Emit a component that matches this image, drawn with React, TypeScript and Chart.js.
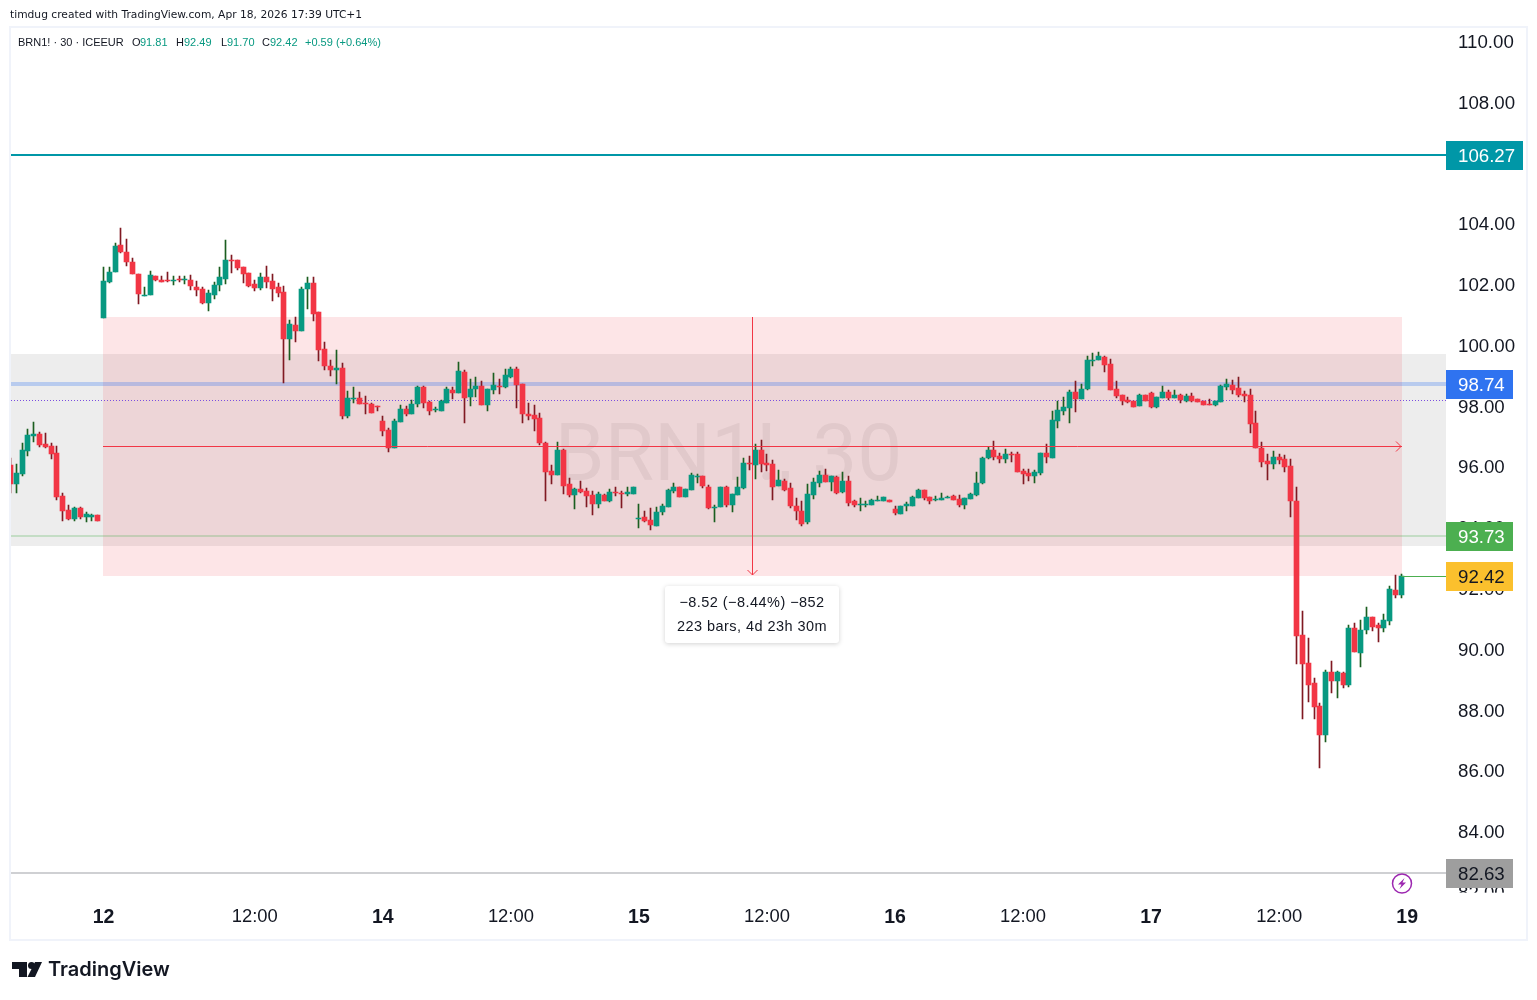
import React, { useEffect, useRef } from "react";
import { Chart, registerables } from "chart.js";

Chart.register(...registerables);

const firstBar = -16;
const opens = [96.08,95.45,95.78,96.54,97.03,97.10,96.77,96.70,96.47,95.06,94.60,94.30,94.66,94.36,94.36,94.43,
100.92,102.10,102.43,103.32,103.09,102.76,102.36,101.64,101.67,102.30,102.17,102.17,102.13,102.20,102.17,102.17,101.94,101.87,101.41,101.67,102.00,102.20,102.82,102.82,102.59,102.40,102.03,101.90,102.27,102.13,101.94,101.77,100.22,100.69,100.49,101.87,102.07,101.11,99.90,99.34,99.20,99.27,97.69,
98.25,98.28,98.12,98.08,98.02,97.52,97.23,96.64,97.49,97.92,97.76,98.08,98.64,98.15,97.89,97.85,98.12,98.55,98.45,99.14,98.31,98.58,98.68,98.05,98.55,98.68,98.64,98.97,99.24,98.74,97.76,97.72,97.62,96.80,95.88,95.75,96.57,95.45,95.09,95.29,95.22,95.09,94.79,95.09,94.89,95.19,95.16,95.12,95.12,94.30,94.37,94.27,
94.07,94.53,94.69,95.22,95.35,95.02,95.25,95.68,95.72,95.35,94.66,94.69,95.35,94.76,95.09,95.31,96.14,96.08,96.57,96.14,96.11,95.39,95.55,95.32,94.73,94.56,94.20,95.09,95.48,95.75,95.52,95.68,95.19,95.55,94.89,94.76,94.76,94.76,94.89,94.89,94.92,94.63,94.46,94.73,94.73,94.99,95.25,95.02,94.92,94.92,94.99,95.06,94.96,94.76,94.96,95.09,95.48,96.31,
96.57,96.37,96.27,96.44,96.44,95.88,95.81,95.71,95.81,96.47,96.31,97.53,97.85,97.95,98.48,98.25,98.58,99.50,99.53,99.63,99.40,98.58,98.38,98.22,98.18,98.02,98.38,98.45,97.99,98.28,98.48,98.28,98.38,98.18,98.35,98.25,98.18,98.08,98.05,98.15,98.64,98.71,98.61,98.41,98.38,97.46,96.64,96.21,
96.11,96.34,96.27,96.04,94.89,90.48,89.56,88.90,88.14,87.19,89.26,88.97,89.23,88.84,90.71,89.89,90.65,91.07,90.81,90.71,90.94,91.96,91.81];
const highs = [96.31,96.11,96.80,97.26,97.49,97.16,97.13,96.80,96.70,95.16,94.76,94.69,94.69,94.53,94.46,94.43,
102.59,102.59,103.38,103.88,103.52,102.89,102.36,101.94,102.46,102.30,102.30,102.43,102.30,102.30,102.30,102.33,102.13,101.94,101.84,102.10,102.59,103.48,102.99,102.82,102.59,102.40,102.17,102.40,102.63,102.36,102.07,101.97,100.85,100.95,101.94,102.27,102.27,101.11,100.13,99.53,99.86,99.43,98.51,
98.64,98.48,98.35,98.12,98.02,97.69,97.29,97.59,98.05,98.02,98.22,98.68,98.68,98.18,97.99,98.22,98.64,98.64,99.47,99.20,98.91,98.97,98.84,98.58,99.10,98.91,99.24,99.30,99.30,98.74,98.12,98.05,97.79,96.83,96.08,96.83,96.60,95.65,95.32,95.55,95.32,95.22,95.19,95.12,95.29,95.35,95.22,95.35,95.35,94.79,94.56,94.66,
94.69,94.79,95.29,95.48,95.35,95.29,95.81,95.78,95.72,95.42,94.76,95.35,95.39,95.12,95.68,96.31,96.37,96.77,96.90,96.44,96.24,95.91,95.62,95.48,94.99,94.89,95.45,95.65,95.88,95.95,95.72,95.72,95.85,95.72,94.92,94.99,94.89,94.96,95.06,95.02,94.92,94.73,94.73,94.86,95.06,95.29,95.25,95.02,95.06,95.16,95.06,95.09,95.09,94.99,95.16,95.85,96.34,96.67,
96.87,96.47,96.60,96.50,96.50,95.95,95.95,95.91,96.47,96.77,97.85,98.18,98.32,98.55,98.84,98.74,99.66,99.76,99.80,99.66,99.57,98.84,98.38,98.32,98.18,98.41,98.38,98.48,98.32,98.68,98.55,98.55,98.41,98.41,98.45,98.25,98.18,98.25,98.18,98.71,98.91,98.87,98.97,98.51,98.58,97.85,96.83,96.44,
96.54,96.44,96.41,96.27,95.35,91.27,90.38,89.07,88.24,89.33,89.62,89.30,89.26,90.81,90.88,90.97,91.40,91.07,90.88,91.17,92.09,92.46,92.49];
const lows = [95.16,95.16,95.71,96.37,96.83,96.67,96.64,96.27,94.92,94.23,94.27,94.23,94.30,94.20,94.23,94.23,
100.92,102.07,102.43,103.06,102.63,102.36,101.38,101.64,101.67,102.13,102.10,102.10,102.00,102.10,102.03,101.84,101.64,101.38,101.15,101.54,101.80,102.03,102.40,102.50,102.07,101.94,101.80,101.84,101.90,101.48,101.61,98.78,99.53,100.13,100.49,101.21,100.82,99.50,99.20,99.01,98.74,97.59,97.62,
98.12,98.08,97.76,97.79,97.85,97.03,96.50,96.64,97.49,97.69,97.76,97.99,97.95,97.72,97.82,97.85,98.12,98.25,98.45,97.46,98.02,98.31,98.05,97.85,98.41,98.41,98.61,98.94,97.95,97.46,97.56,97.20,96.73,94.89,95.45,95.75,95.12,95.02,94.63,95.16,94.69,94.43,94.66,94.89,94.86,95.06,94.66,95.06,95.12,94.00,94.20,93.94,
94.07,94.43,94.69,95.16,95.02,95.02,95.25,95.48,95.32,94.63,94.20,94.69,94.69,94.53,95.09,95.29,95.91,95.62,95.85,95.88,94.92,95.39,95.22,94.66,94.27,94.07,94.13,94.96,95.35,95.52,95.22,95.12,95.16,94.73,94.69,94.56,94.69,94.76,94.89,94.89,94.86,94.43,94.46,94.56,94.73,94.99,94.92,94.79,94.89,94.92,94.99,94.92,94.69,94.63,94.96,95.06,95.45,96.27,
96.24,96.14,96.14,96.18,95.85,95.45,95.55,95.48,95.75,96.14,96.31,97.29,97.72,97.46,97.82,98.25,98.55,99.34,99.53,99.14,98.55,98.28,98.05,98.12,97.99,98.02,98.18,97.95,97.95,98.28,98.22,98.28,98.12,98.15,98.15,98.15,98.05,98.05,98.02,98.15,98.55,98.41,98.32,98.15,97.13,96.64,96.01,95.58,
95.94,96.11,95.85,94.36,89.53,87.72,88.28,87.72,86.10,86.96,88.57,88.41,88.74,88.77,89.92,89.43,90.51,90.61,90.25,90.58,90.81,91.70,91.70];
const closes = [95.45,95.81,96.57,97.06,97.10,96.73,96.67,96.44,95.02,94.56,94.30,94.66,94.36,94.46,94.43,94.23,
102.13,102.43,103.29,103.09,102.76,102.36,101.71,101.67,102.33,102.17,102.10,102.13,102.17,102.17,102.20,101.97,101.84,101.41,101.74,102.00,102.27,102.82,102.79,102.56,102.36,101.97,101.90,102.27,102.10,101.87,101.74,100.22,100.72,100.49,101.87,102.07,101.05,99.86,99.34,99.20,99.27,97.69,98.28,
98.28,98.08,98.08,97.79,97.99,97.20,96.64,97.52,97.92,97.76,98.08,98.64,98.12,97.85,97.92,98.18,98.58,98.45,99.17,98.28,98.58,98.68,98.05,98.58,98.71,98.64,99.04,99.24,98.71,97.76,97.69,97.59,96.80,95.85,95.75,96.57,95.39,95.09,95.29,95.19,95.06,94.79,95.12,94.89,95.19,95.16,95.12,95.19,95.35,94.33,94.23,94.10,
94.53,94.73,95.25,95.35,95.02,95.29,95.75,95.72,95.39,94.66,94.69,95.35,94.76,95.12,95.35,96.14,96.11,96.57,96.11,96.08,95.35,95.58,95.25,94.73,94.56,94.13,95.12,95.52,95.75,95.52,95.72,95.16,95.55,94.83,94.76,94.79,94.79,94.92,94.92,95.02,94.86,94.50,94.73,94.79,95.02,95.25,94.99,94.89,94.96,94.99,95.02,94.92,94.76,94.99,95.12,95.48,96.31,96.57,
96.34,96.27,96.44,96.41,95.85,95.78,95.71,95.85,96.47,96.34,97.56,97.89,97.99,98.48,98.25,98.58,99.53,99.53,99.66,99.37,98.55,98.35,98.18,98.15,97.99,98.38,98.18,97.99,98.32,98.48,98.28,98.38,98.22,98.35,98.18,98.15,98.05,98.05,98.18,98.68,98.74,98.55,98.38,98.35,97.43,96.64,96.18,96.11,
96.34,96.24,96.01,94.89,90.45,89.53,88.84,88.11,87.19,89.26,88.97,89.26,88.84,90.71,89.92,90.65,91.07,90.74,90.71,90.97,91.99,91.80,92.42];

const priceTicks = [110,108,106,104,102,100,98,96,94,92,90,88,86,84,82];
const timeTickBars = [0,26,48,70,92,114,136,158,180,202,224];
const timeTickLabels = ["12","12:00","14","12:00","15","12:00","16","12:00","17","12:00","19"];

const measureTop = 100.94;
const measureBottom = 92.42;
const measureMid = 96.68;
const measureStartBar = 0;
const measureEndBar = 223;
const grayTop = 99.73;
const grayBottom = 93.41;
const tealLevel = 106.27;
const blueLevel = 98.74;
const dottedLevel = 98.2;
const greenLevel = 93.73;
const lastPrice = 92.42;
const grayLevel = 82.63;

const badges = [
  { text: "106.27", value: tealLevel, bg: "#0097a7", fg: "#ffffff", w: 77 },
  { text: "98.74", value: blueLevel, bg: "#2f73f0", fg: "#ffffff", w: 67 },
  { text: "93.73", value: greenLevel, bg: "#4caf50", fg: "#ffffff", w: 67 },
  { text: "92.42", value: lastPrice, bg: "#fbc02d", fg: "#131722", w: 67 },
  { text: "82.63", value: grayLevel, bg: "#9e9e9e", fg: "#131722", w: 67 },
];

const FONT = '"Liberation Sans", Arial, sans-serif';
const UP = "#089981";
const DOWN = "#f23645";
const UP_WICK = "#1b5e20";
const DOWN_WICK = "#801922";

const barX = (i: number) => i + firstBar;

const snapPlugin = {
  id: "snap",
  afterDatasetsUpdate(chart: any) {
    chart.data.datasets.forEach((_: any, d: number) => {
      chart.getDatasetMeta(d).data.forEach((el: any) => {
        el.x = Math.floor(el.x) + 0.5;
        const top = Math.round(el.y);
        let bottom = Math.round(el.base);
        if (bottom <= top) bottom = top + 1;
        el.y = top;
        el.base = bottom;
        el.height = bottom - top;
      });
    });
  },
};

const hLine = (ctx: any, x1: number, x2: number, y: number, color: string, width: number, dash: number[] = []) => {
  ctx.save();
  ctx.strokeStyle = color;
  ctx.lineWidth = width;
  ctx.setLineDash(dash);
  const py = width % 2 ? Math.floor(y) + 0.5 : Math.floor(y);
  ctx.beginPath();
  ctx.moveTo(x1, py);
  ctx.lineTo(x2, py);
  ctx.stroke();
  ctx.restore();
};

const overlayPlugin = {
  id: "overlay",
  beforeDraw(chart: any) {
    const { ctx } = chart;
    ctx.save();
    ctx.fillStyle = "#ffffff";
    ctx.fillRect(0, 0, chart.width, chart.height);
    ctx.fillStyle = "#f0f3fa";
    ctx.fillRect(9, 26, 1519, 2);
    ctx.fillRect(9, 939, 1519, 2);
    ctx.fillRect(9, 26, 2, 915);
    ctx.fillRect(1526, 26, 2, 915);
    ctx.restore();
  },
  beforeDatasetsDraw(chart: any) {
    const { ctx, chartArea: a, scales } = chart;
    const x = scales.x;
    const y = scales.y;
    ctx.save();
    ctx.fillStyle = "rgba(0,0,0,0.07)";
    const gt = Math.round(y.getPixelForValue(grayTop));
    const gb = Math.round(y.getPixelForValue(grayBottom));
    ctx.fillRect(a.left, gt, a.right - a.left, gb - gt);

    ctx.font = "80px Roboto";
    ctx.fillStyle = "rgba(0,0,0,0.06)";
    ctx.textAlign = "center";
    ctx.textBaseline = "middle";
    ctx.fillText("BRN1!, 30", 728.5, 460);

    const mx1 = Math.floor(x.getPixelForValue(measureStartBar));
    const mx2 = Math.ceil(x.getPixelForValue(measureEndBar));
    const mt = Math.round(y.getPixelForValue(measureTop));
    const mb = Math.round(y.getPixelForValue(measureBottom));
    ctx.fillStyle = "rgba(242,54,69,0.13)";
    ctx.fillRect(mx1, mt, mx2 - mx1, mb - mt);

    hLine(ctx, a.left, a.right, y.getPixelForValue(blueLevel), "rgba(47,115,240,0.28)", 4);
    hLine(ctx, a.left, a.right, y.getPixelForValue(dottedLevel), "#7b4fe0", 1, [1, 2]);
    hLine(ctx, a.left, a.right, y.getPixelForValue(greenLevel), "rgba(76,175,80,0.25)", 2);
    hLine(ctx, a.left, a.right, y.getPixelForValue(tealLevel), "#0097a7", 2);
    hLine(ctx, a.left, a.right, y.getPixelForValue(grayLevel), "#cfd0d3", 2);
    ctx.restore();
  },
  afterDatasetsDraw(chart: any) {
    const { ctx, chartArea: a, scales } = chart;
    const x = scales.x;
    const y = scales.y;
    const mx1 = Math.floor(x.getPixelForValue(measureStartBar));
    const mx2 = Math.ceil(x.getPixelForValue(measureEndBar));
    const mt = Math.round(y.getPixelForValue(measureTop));
    const mb = Math.round(y.getPixelForValue(measureBottom));
    const my = Math.floor(y.getPixelForValue(measureMid)) + 0.5;
    const mc = Math.floor(x.getPixelForValue((measureStartBar + measureEndBar) / 2)) + 0.5;

    hLine(ctx, x.getPixelForValue(measureEndBar), a.right, y.getPixelForValue(lastPrice), "#4caf50", 1);
    hLine(ctx, mx1, mx2, my, DOWN, 1);
    ctx.save();
    ctx.strokeStyle = DOWN;
    ctx.lineWidth = 1;
    ctx.beginPath();
    ctx.moveTo(mc, mt);
    ctx.lineTo(mc, mb - 1);
    ctx.moveTo(mc - 5, mb - 6);
    ctx.lineTo(mc, mb - 1);
    ctx.lineTo(mc + 5, mb - 6);
    ctx.moveTo(mx2 - 6, my - 5);
    ctx.lineTo(mx2 - 1, my);
    ctx.lineTo(mx2 - 6, my + 5);
    ctx.stroke();
    ctx.restore();

    // measure label
    ctx.save();
    ctx.shadowColor = "rgba(0,0,0,0.18)";
    ctx.shadowBlur = 5;
    ctx.shadowOffsetY = 1;
    ctx.fillStyle = "#ffffff";
    ctx.beginPath();
    ctx.roundRect(665, 586, 174, 57, 3);
    ctx.fill();
    ctx.restore();
    ctx.save();
    ctx.fillStyle = "#131722";
    ctx.font = `14.5px ${FONT}`;
    (ctx as any).letterSpacing = "0.45px";
    ctx.textAlign = "center";
    ctx.textBaseline = "middle";
    ctx.fillText("\u22128.52 (\u22128.44%) \u2212852", 752, 603);
    ctx.fillText("223 bars, 4d 23h 30m", 752, 627);
    ctx.restore();
  },
  afterDraw(chart: any) {
    const { ctx, chartArea: a, scales } = chart;
    const y = scales.y;
    ctx.save();
    ctx.fillStyle = "#ffffff";
    ctx.fillRect(a.right, a.bottom, 80, 45);

    ctx.textBaseline = "middle";
    ctx.textAlign = "left";
    badges.forEach((b) => {
      const py = Math.floor(y.getPixelForValue(b.value));
      ctx.fillStyle = b.bg;
      ctx.fillRect(a.right, py - 14, b.w, 29);
      ctx.fillStyle = b.fg;
      ctx.font = `18.7px ${FONT}`;
      ctx.fillText(b.text, 1458, py + 2);
    });

    // flash icon
    ctx.strokeStyle = "#9c27b0";
    ctx.lineWidth = 1.5;
    ctx.beginPath();
    ctx.arc(1402, 883.5, 9.5, 0, Math.PI * 2);
    ctx.stroke();
    ctx.fillStyle = "#9c27b0";
    ctx.beginPath();
    ctx.moveTo(1404.5, 878);
    ctx.lineTo(1398, 884.5);
    ctx.lineTo(1401.5, 884.5);
    ctx.lineTo(1399.5, 889);
    ctx.lineTo(1406, 882.5);
    ctx.lineTo(1402.5, 882.5);
    ctx.closePath();
    ctx.fill();

    // header
    ctx.fillStyle = "#131722";
    ctx.font = "10.7px 'DejaVu Sans'";
    ctx.fillText("timdug created with TradingView.com, Apr 18, 2026 17:39 UTC+1", 10, 15);

    ctx.font = `11px ${FONT}`;
    const legend: [string, number, string][] = [
      ["BRN1! \u00b7 30 \u00b7 ICEEUR", 18, "#131722"],
      ["O", 132, "#131722"],
      ["91.81", 140, UP],
      ["H", 176, "#131722"],
      ["92.49", 184, UP],
      ["L", 221, "#131722"],
      ["91.70", 227, UP],
      ["C", 262, "#131722"],
      ["92.42", 270, UP],
      ["+0.59 (+0.64%)", 305, UP],
    ];
    legend.forEach(([t, lx, c]) => {
      ctx.fillStyle = c;
      ctx.fillText(t, lx, 43);
    });

    // logo
    ctx.fillStyle = "#131722";
    ctx.beginPath();
    ctx.moveTo(12, 962);
    ctx.lineTo(27, 962);
    ctx.lineTo(27, 977);
    ctx.lineTo(19, 977);
    ctx.lineTo(19, 969);
    ctx.lineTo(12, 969);
    ctx.closePath();
    ctx.fill();
    ctx.beginPath();
    ctx.arc(31.5, 965.5, 3.5, 0, Math.PI * 2);
    ctx.fill();
    ctx.beginPath();
    ctx.moveTo(35, 962);
    ctx.lineTo(42, 962);
    ctx.lineTo(35, 977);
    ctx.lineTo(27.5, 977);
    ctx.closePath();
    ctx.fill();
    ctx.font = "600 20px Inter";
    ctx.fillText("TradingView", 48, 970);
    ctx.restore();
  },
};

export default function App() {
  const ref = useRef<HTMLCanvasElement | null>(null);
  useEffect(() => {
    if (!ref.current) return;
    const wickData = highs.map((h, i) => ({ x: barX(i), y: [lows[i], h] }));
    const bodyData = opens.map((o, i) => ({ x: barX(i), y: [o, closes[i]] }));
    const isUp = (i: number) => closes[i] >= opens[i];
    const chart = new Chart(ref.current, {
      type: "bar",
      data: {
        datasets: [
          {
            label: "wick",
            data: wickData as any,
            order: 2,
            barThickness: 1,
            grouped: false,
            borderWidth: 0,
            borderSkipped: false,
            backgroundColor: opens.map((_, i) => (isUp(i) ? UP_WICK : DOWN_WICK)),
          },
          {
            label: "BRN1!",
            data: bodyData as any,
            order: 1,
            barThickness: 5,
            grouped: false,
            borderWidth: 0,
            borderSkipped: false,
            backgroundColor: opens.map((_, i) => (isUp(i) ? UP : DOWN)),
          },
        ] as any,
      },
      plugins: [snapPlugin, overlayPlugin] as any,
      options: {
        animation: false,
        responsive: false,
        devicePixelRatio: 1,
        events: [],
        layout: { padding: { left: 11, right: 10, top: 28, bottom: 0 } },
        plugins: { legend: { display: false }, tooltip: { enabled: false } },
        scales: {
          x: {
            type: "linear",
            offset: false,
            min: (11 - 103.5) / 5.82,
            max: (1446 - 103.5) / 5.82,
            grid: { display: false, drawTicks: false },
            border: { display: false },
            afterBuildTicks: (s: any) => {
              s.ticks = timeTickBars.map((v) => ({ value: v }));
            },
            afterFit: (s: any) => {
              s.height = 107.36;
            },
            ticks: {
              autoSkip: false,
              maxRotation: 0,
              padding: 13,
              color: "#131722",
              callback: (v: any) => timeTickLabels[timeTickBars.indexOf(v)] ?? "",
              font: (c: any) => {
                const lbl = timeTickLabels[timeTickBars.indexOf(c.tick?.value)] ?? "";
                return lbl.includes(":")
                  ? { family: FONT, size: 18.4, weight: "normal" }
                  : { family: FONT, size: 19.5, weight: "bold" };
              },
            },
          } as any,
          y: {
            position: "right",
            min: 82,
            max: 110.461,
            grid: { display: false, drawTicks: false },
            border: { display: false },
            afterBuildTicks: (s: any) => {
              s.ticks = priceTicks.map((v) => ({ value: v }));
            },
            afterFit: (s: any) => {
              s.width = 81;
            },
            ticks: {
              autoSkip: false,
              padding: 12,
              labelOffset: 1,
              color: "#131722",
              font: { family: FONT, size: 18.7 },
              callback: (v: any) => Number(v).toFixed(2),
            },
          } as any,
        },
      } as any,
    });
    return () => chart.destroy();
  }, []);
  return (
    <div style={{ position: "absolute", left: 0, top: 0, width: 1537, height: 1000, background: "#fff" }}>
      <canvas ref={ref} width={1537} height={1000} style={{ display: "block" }} />
    </div>
  );
}
